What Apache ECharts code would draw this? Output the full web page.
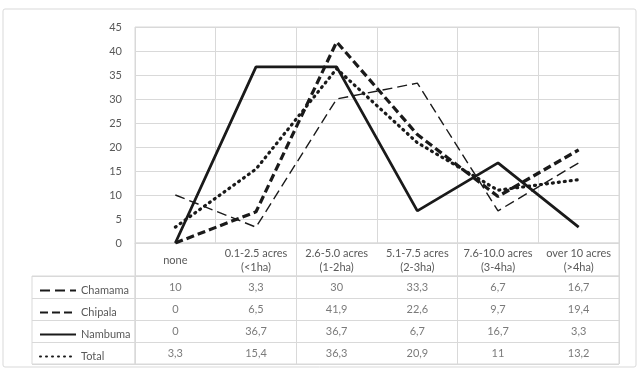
<!DOCTYPE html>
<html lang="en">
<head>
    <meta charset="UTF-8"/>
    <title>Land size by village</title>
    <script src="https://cdn.jsdelivr.net/npm/echarts@6/dist/echarts.min.js"></script>
    <style>
        body {
            margin: 0;
            background-color: #fff;
        }

        #chart {
            width: 640px;
            height: 368px;
        }
    </style>
</head>
<body>

<div id="chart"></div>

<script>
    // categories (axis labels) and table rows
    const categories = ["none", "0.1-2.5 acres\n(<1ha)", "2.6-5.0 acres\n(1-2ha)", "5.1-7.5 acres\n(2-3ha)", "7.6-10.0 acres\n(3-4ha)", "over 10 acres\n(>4ha)"];
    const rowNames = ["Chamama", "Chipala", "Nambuma", "Total"];

    const chamama = [10, 3.3, 30, 33.3, 6.7, 16.7];
    const chipala = [0, 6.5, 41.9, 22.6, 9.7, 19.4];
    const nambuma = [0, 36.7, 36.7, 6.7, 16.7, 3.3];
    const total = [3.3, 15.4, 36.3, 20.9, 11, 13.2];

    const yTicks = {min: 0, max: 45, interval: 5};

    const gridColor = "#d9d9d9";
    const textColor = "#595959";
    const lineColor = "#1a1a1a";
    const font = "Lato, 'Open Sans', sans-serif";

    function fmt(v) {
        return String(v).replace(".", ",");
    }

    const lineStyles = {
        Chamama: {width: 1.4, type: [10, 5]},
        Chipala: {width: 3.2, type: [8, 4]},
        Nambuma: {width: 2.8, type: "solid"},
        Total: {width: 3.2, type: [1, 5], cap: "round"}
    };
    const rows = {Chamama: chamama, Chipala: chipala, Nambuma: nambuma, Total: total};

    const lineSeries = rowNames.map(function (name) {
        return {
            name: name,
            type: "line",
            xAxisIndex: 0,
            yAxisIndex: 0,
            symbol: "none",
            data: rows[name],
            lineStyle: Object.assign({color: lineColor}, lineStyles[name]),
            itemStyle: {color: lineColor}
        };
    });

    // table cells drawn as invisible scatter points with labels
    const tableSeries = rowNames.map(function (name) {
        return {
            name: "tbl-" + name,
            type: "scatter",
            xAxisIndex: 1,
            yAxisIndex: 1,
            symbolSize: 1,
            itemStyle: {color: "transparent"},
            label: {
                show: true,
                position: "inside",
                color: textColor,
                fontSize: 11,
                fontFamily: font,
                formatter: function (p) {
                    return fmt(p.value[2]);
                }
            },
            data: rows[name].map(function (v, i) {
                return [i, name, v];
            })
        };
    });

    // one legend per table row so each sits in its own cell
    const legends = rowNames.map(function (name, i) {
        return {
            data: [name],
            left: 34,
            top: 280 + 22 * i,
            itemWidth: 36,
            itemHeight: 14,
            itemStyle: {opacity: 0},
            textStyle: {color: textColor, fontSize: 11, fontFamily: font}
        };
    });

    const chart = echarts.init(document.getElementById("chart"));
    chart.setOption({
        animation: false,
        textStyle: {fontFamily: font},
        graphic: [{
            type: "rect",
            shape: {x: 3, y: 9, width: 633, height: 358, r: 2},
            style: {fill: "none", stroke: gridColor, lineWidth: 1},
            silent: true
        }],
        legend: legends,
        grid: [
            {left: 135, right: 21, top: 27, height: 216, show: true, borderColor: gridColor, borderWidth: 1},
            {left: 135, right: 21, top: 276, height: 88, show: true, borderColor: gridColor, borderWidth: 1},
            {left: 32, width: 103, top: 276, height: 88, show: true, borderColor: gridColor, borderWidth: 1},
            {left: 135, right: 21, top: 243, height: 33, show: true, borderColor: gridColor, borderWidth: 1}
        ],
        xAxis: [
            {
                type: "category",
                gridIndex: 0,
                data: categories,
                boundaryGap: true,
                axisLine: {lineStyle: {color: gridColor}},
                axisTick: {show: false},
                splitLine: {show: true, lineStyle: {color: gridColor}},
                axisLabel: {
                    interval: 0,
                    margin: 17,
                    verticalAlign: "middle",
                    lineHeight: 14,
                    color: textColor,
                    fontSize: 11
                }
            },
            {
                type: "category",
                gridIndex: 1,
                data: categories,
                axisLine: {show: false},
                axisTick: {show: false},
                axisLabel: {show: false},
                splitLine: {show: true, lineStyle: {color: gridColor}}
            },
            {
                type: "value",
                gridIndex: 2,
                show: false
            },
            {
                type: "category",
                gridIndex: 3,
                data: categories,
                axisLine: {show: false},
                axisTick: {show: false},
                axisLabel: {show: false},
                splitLine: {show: true, lineStyle: {color: gridColor}}
            }
        ],
        yAxis: [
            {
                type: "value",
                gridIndex: 0,
                min: yTicks.min,
                max: yTicks.max,
                interval: yTicks.interval,
                axisLine: {show: false},
                axisTick: {show: false},
                splitLine: {lineStyle: {color: gridColor}},
                axisLabel: {color: textColor, fontSize: 11, margin: 13}
            },
            {
                type: "category",
                gridIndex: 1,
                data: rowNames,
                inverse: true,
                axisLine: {show: false},
                axisTick: {show: false},
                axisLabel: {show: false},
                splitLine: {show: true, lineStyle: {color: gridColor}}
            },
            {
                type: "category",
                gridIndex: 2,
                data: rowNames,
                inverse: true,
                axisLine: {show: false},
                axisTick: {show: false},
                axisLabel: {show: false},
                splitLine: {show: true, lineStyle: {color: gridColor}}
            },
            {
                type: "value",
                gridIndex: 3,
                show: false
            }
        ],
        series: lineSeries.concat(tableSeries)
    });
</script>

</body>
</html>
